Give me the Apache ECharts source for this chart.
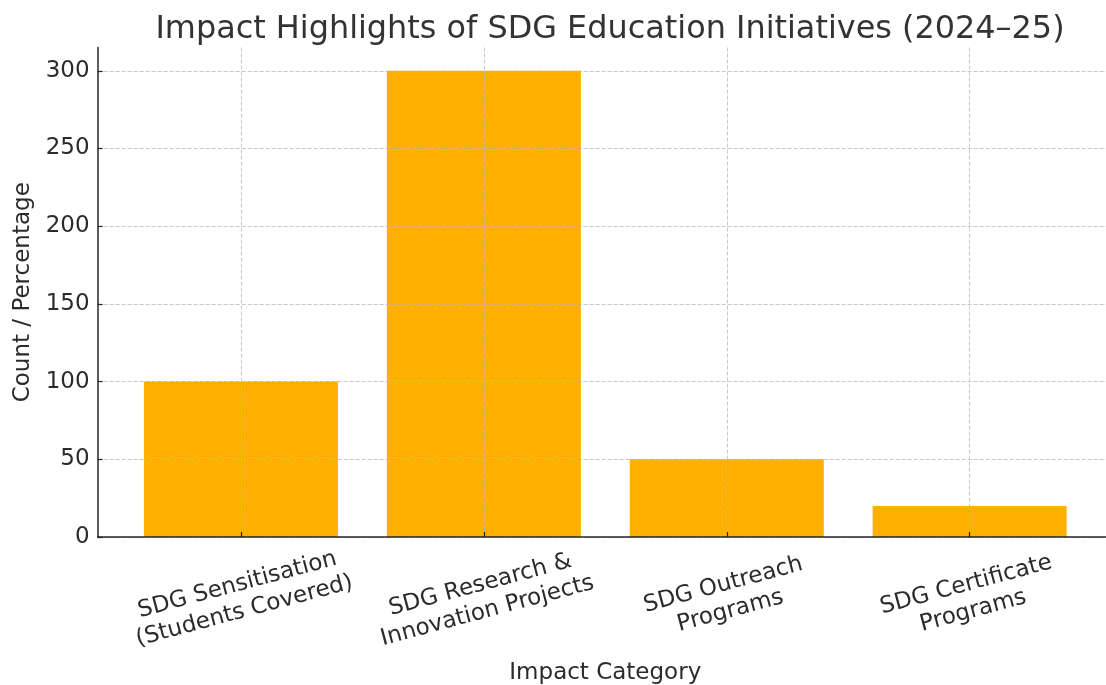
<!DOCTYPE html>
<html>
<head>
<meta charset="utf-8">
<script src="https://cdn.jsdelivr.net/npm/echarts@6/dist/echarts.min.js"></script>
<style>
html,body{margin:0;padding:0;background:#fff;}
#chart{width:1106px;height:685px;}
</style>
</head>
<body>
<div id="chart"></div>
<script>
const titleText = 'Impact Highlights of SDG Education Initiatives (2024–25)';
const categories = [
  'SDG Sensitisation\n(Students Covered)',
  'SDG Research &\nInnovation Projects',
  'SDG Outreach\nPrograms',
  'SDG Certificate\nPrograms'
];
const values = [100, 300, 50, 20];
const yTicks = [0, 50, 100, 150, 200, 250, 300];
const xTicks = [0, 1, 2, 3];
const xAxisName = 'Impact Category';
const yAxisName = 'Count / Percentage';

const FONT = 'DejaVu Sans';
const TXT = '#2b2b2b';
const GRID_LINE = { show: true, lineStyle: { color: 'rgba(176,176,176,0.7)', type: [4, 2], width: 1 } };

const chart = echarts.init(document.getElementById('chart'), null, { renderer: 'canvas' });
chart.setOption({
  animation: false,
  backgroundColor: '#ffffff',
  title: {
    text: titleText,
    left: 605,
    top: 9,
    textAlign: 'center',
    textStyle: { fontFamily: FONT, fontSize: 31.9, fontWeight: 'normal', color: '#333333' }
  },
  grid: {
    left: 97.6, right: -7, top: 47.5, bottom: 148,
    containLabel: false, outerBoundsMode: 'none'
  },
  xAxis: {
    type: 'value',
    min: -0.59,
    max: 3.59,
    z: 5,
    name: xAxisName,
    nameLocation: 'middle',
    nameGap: 125,
    nameTextStyle: { fontFamily: FONT, fontSize: 23, color: TXT },
    axisLine: { show: true, onZero: false, lineStyle: { color: '#262626', width: 1.5 } },
    axisTick: { show: true, inside: true, length: 5, customValues: xTicks, lineStyle: { color: '#262626', width: 1.2 } },
    axisLabel: {
      customValues: xTicks,
      formatter: v => categories[Math.round(v)] || '',
      rotate: 15,
      align: 'center',
      verticalAlign: 'middle',
      margin: 61,
      lineHeight: 27,
      fontFamily: FONT, fontSize: 23, color: TXT
    },
    splitLine: GRID_LINE
  },
  yAxis: {
    type: 'value',
    min: 0,
    max: 315,
    z: 5,
    name: yAxisName,
    nameLocation: 'middle',
    nameRotate: 90,
    nameGap: 60,
    nameTextStyle: { fontFamily: FONT, fontSize: 23, color: TXT },
    axisLine: { show: true, onZero: false, lineStyle: { color: '#262626', width: 1.5 } },
    axisTick: { show: true, inside: true, length: 5, customValues: yTicks, lineStyle: { color: '#262626', width: 1.2 } },
    axisLabel: {
      customValues: yTicks,
      margin: 8,
      fontFamily: FONT, fontSize: 23, color: TXT
    },
    splitLine: GRID_LINE
  },
  series: [{
    type: 'bar',
    z: 1,
    barWidth: 194,
    itemStyle: { color: '#FFB000' },
    data: values.map((v, i) => [xTicks[i], v])
  }]
});
</script>
</body>
</html>
